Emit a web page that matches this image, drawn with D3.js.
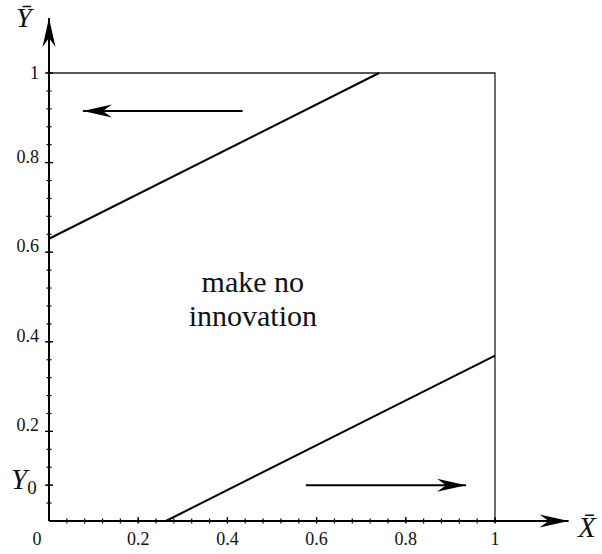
<!DOCTYPE html>
<html>
<head>
<meta charset="utf-8">
<script src="https://cdn.jsdelivr.net/npm/d3@7"></script>
<style>
  body { margin: 0; background: #fff; }
  svg text { font-family: "Liberation Serif", "DejaVu Serif", "Noto Serif", serif; fill: #111; }
</style>
</head>
<body>
<script>
// Tick values and labels
const xTicks = [0, 0.2, 0.4, 0.6, 0.8, 1];
const xTickLabels = ["0", "0.2", "0.4", "0.6", "0.8", "1"];
const yTicks = [0.2, 0.4, 0.6, 0.8, 1];
const yTickLabels = ["0.2", "0.4", "0.6", "0.8", "1"];
const minorStep = 0.04;
const Y0 = 0.08;

// Boundary lines (endpoints in data units)
const upperLine = [{x: 0, y: 0.63}, {x: 0.74, y: 1}];
const lowerLine = [{x: 0.262, y: 0}, {x: 1, y: 0.369}];
// Unit box: top edge and right edge
const boxLine = [{x: 0, y: 1}, {x: 1, y: 1}, {x: 1, y: 0}];

// Direction arrows (from -> to)
const arrows = [
    {from: {x: 0.434, y: 0.915}, to: {x: 0.076, y: 0.915}},
    {from: {x: 0.576, y: Y0}, to: {x: 0.935, y: Y0}}
];
const regionText = ["make no", "innovation"];

const width = 602, height = 554;

const x = d3.scaleLinear().domain([0, 1]).range([49, 495]);
const y = d3.scaleLinear().domain([0, 1]).range([521, 73]);

const svg = d3.select("body").append("svg")
    .attr("width", width)
    .attr("height", height)
    .attr("font-family", "Liberation Serif, DejaVu Serif, serif");

// arrowhead marker (barbed)
const defs = svg.append("defs");
defs.append("marker")
    .attr("id", "head")
    .attr("markerUnits", "userSpaceOnUse")
    .attr("viewBox", "-30 -8 32 16")
    .attr("refX", 0).attr("refY", 0)
    .attr("markerWidth", 32).attr("markerHeight", 16)
    .attr("orient", "auto")
    .append("path")
    .attr("d", "M0,0 L-29,-6.5 L-20,0 L-29,6.5 Z")
    .attr("fill", "#000");

const line = d3.line().x(d => x(d.x)).y(d => y(d.y));

// box
svg.append("path")
    .datum(boxLine)
    .attr("d", line)
    .attr("fill", "none")
    .attr("stroke", "#222")
    .attr("stroke-width", 1.3);

// boundary lines
[upperLine, lowerLine].forEach(l => {
    svg.append("path")
        .datum(l)
        .attr("d", line)
        .attr("fill", "none")
        .attr("stroke", "#000")
        .attr("stroke-width", 2);
});

// axes with arrows
svg.append("line")
    .attr("x1", x(0)).attr("y1", y(0))
    .attr("x2", x(1.165)).attr("y2", y(0))
    .attr("stroke", "#000").attr("stroke-width", 2)
    .attr("marker-end", "url(#head)");
svg.append("line")
    .attr("x1", x(0)).attr("y1", y(0))
    .attr("x2", x(0)).attr("y2", y(1.123))
    .attr("stroke", "#000").attr("stroke-width", 2)
    .attr("marker-end", "url(#head)");

// minor ticks
const minor = d3.range(minorStep, 1 + 1e-9, minorStep);
svg.append("g").selectAll("line")
    .data(minor)
    .join("line")
    .attr("x1", d => x(d)).attr("x2", d => x(d))
    .attr("y1", y(0) - 2.5).attr("y2", y(0) + 2.5)
    .attr("stroke", "#000").attr("stroke-width", 1.2);
svg.append("g").selectAll("line")
    .data(minor)
    .join("line")
    .attr("y1", d => y(d)).attr("y2", d => y(d))
    .attr("x1", x(0) - 2.5).attr("x2", x(0) + 2.5)
    .attr("stroke", "#000").attr("stroke-width", 1.2);

// major ticks
svg.append("g").selectAll("line")
    .data(xTicks.slice(1))
    .join("line")
    .attr("x1", d => x(d)).attr("x2", d => x(d))
    .attr("y1", y(0) - 4).attr("y2", y(0) + 2)
    .attr("stroke", "#000").attr("stroke-width", 1.3);
svg.append("g").selectAll("line")
    .data(yTicks.concat([Y0]))
    .join("line")
    .attr("y1", d => y(d)).attr("y2", d => y(d))
    .attr("x1", x(0) - 4).attr("x2", x(0) + 4)
    .attr("stroke", "#000").attr("stroke-width", 1.3);

// tick labels
svg.append("g").selectAll("text")
    .data(xTicks)
    .join("text")
    .attr("x", d => x(d) + (d === 0 ? -12 : 0))
    .attr("y", y(0) + 24)
    .attr("text-anchor", "middle")
    .attr("font-size", 18)
    .text((d, i) => xTickLabels[i]);

svg.append("g").selectAll("text")
    .data(yTicks)
    .join("text")
    .attr("x", x(0) - 10)
    .attr("y", d => y(d) + (d === 1 ? 6 : 0))
    .attr("text-anchor", "end")
    .attr("font-size", 18)
    .text((d, i) => yTickLabels[i]);

// axis titles
svg.append("text")
    .attr("x", 16).attr("y", 27)
    .attr("font-size", 28)
    .attr("font-style", "italic")
    .text("Y\u0304");
svg.append("text")
    .attr("x", 578).attr("y", 537)
    .attr("font-size", 29)
    .attr("font-style", "italic")
    .text("X\u0304");

const y0Label = svg.append("text")
    .attr("x", 11).attr("y", y(Y0) + 4)
    .attr("font-size", 29);
y0Label.append("tspan").attr("font-style", "italic").text("Y");
y0Label.append("tspan").attr("font-size", 19).attr("dy", 5).text("0");

// direction arrows
svg.append("g").selectAll("line")
    .data(arrows)
    .join("line")
    .attr("x1", d => x(d.from.x)).attr("y1", d => y(d.from.y))
    .attr("x2", d => x(d.to.x)).attr("y2", d => y(d.to.y))
    .attr("stroke", "#000").attr("stroke-width", 2)
    .attr("marker-end", "url(#head)");

// region label
svg.append("text")
    .attr("x", x(0.457))
    .attr("y", y(0.512))
    .attr("text-anchor", "middle")
    .attr("font-size", 30)
    .selectAll("tspan")
    .data(regionText)
    .join("tspan")
    .attr("x", x(0.457))
    .attr("dy", (d, i) => i === 0 ? 0 : 34.5)
    .text(d => d);
</script>
</body>
</html>
